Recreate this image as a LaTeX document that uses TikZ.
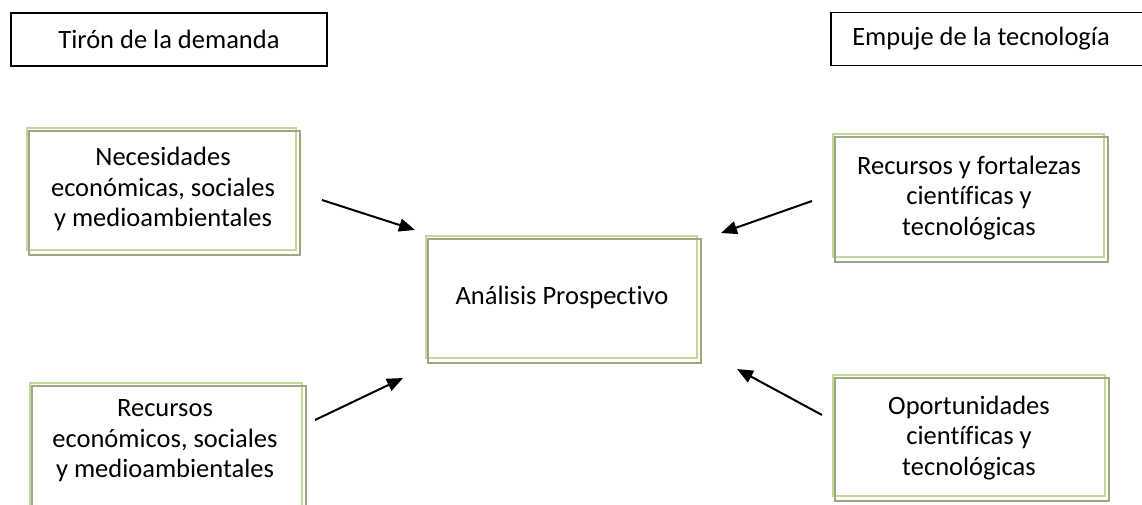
\documentclass[tikz,border=0pt]{standalone}
\usepackage{fontspec}
\setmainfont{Carlito}[Ligatures=NoCommon]
\usetikzlibrary{arrows.meta}
\definecolor{boxlight}{RGB}{195,214,155}
\definecolor{boxdark}{RGB}{158,167,130}
\tikzset{
  x=1pt, y=-1pt,
  txt/.style={font=\fontsize{26.5}{30.5}\selectfont, align=center},
  headbox/.style={txt, draw=black, line width=1.3pt, inner sep=0pt, minimum height=53pt},
  lightframe/.style={draw=boxlight, line width=2.2pt, inner sep=0pt},
  darkframe/.style={draw=boxdark, line width=1.8pt},
  push/.style={line width=2pt, -{Triangle[length=16pt,width=13pt]}}
}
\newcommand{\shadowframe}[1]{%
  \draw[darkframe] ([shift={(3,4)}]#1.north west) rectangle ([shift={(3,4)}]#1.south east);}
\begin{document}
\begin{tikzpicture}
\useasboundingbox (0,0) rectangle (1142,504);
\fill[white] (0,0) rectangle (1142,504);
% header boxes
\node[headbox, minimum width=316pt] (demanda) at (169,39.5) {Tirón de la demanda};
\node[headbox, minimum width=340pt] (empuje) at (1001,39) {};
\node[txt] (empujetxt) at (981,39) {Empuje de la tecnología};
% main boxes
\node[lightframe, minimum width=269pt, minimum height=122pt] (necesidades) at (161.5,189) {};
\shadowframe{necesidades}
\node[txt] (necesidadestxt) at (163,189) {Necesidades\\económicas, sociales\\y medioambientales};
\node[lightframe, minimum width=271pt, minimum height=122pt] (analisis) at (561.5,297) {};
\shadowframe{analisis}
\node[txt] (analisistxt) at (562,297) {Análisis Prospectivo};
\node[lightframe, minimum width=271pt, minimum height=123pt] (fortalezas) at (968.5,195.5) {};
\shadowframe{fortalezas}
\node[txt] (fortalezastxt) at (969,198) {Recursos y fortalezas\\científicas y\\tecnológicas};
\node[lightframe, minimum width=272pt, minimum height=121pt] (oportunidades) at (969,435.5) {};
\shadowframe{oportunidades}
\node[txt] (oportunidadestxt) at (969,438) {Oportunidades\\científicas y\\tecnológicas};
\node[lightframe, minimum width=272pt, minimum height=140pt] (recursos) at (166,453) {};
\shadowframe{recursos}
\node[txt] (recursostxt) at (165,441) {Recursos\\económicos, sociales\\y medioambientales};
% arrows
\coordinate (a1s) at (322,200); \coordinate (a1e) at (415,230);
\coordinate (a2s) at (315,420); \coordinate (a2e) at (403,378);
\coordinate (a3s) at (812,201); \coordinate (a3e) at (721,233);
\coordinate (a4s) at (822,415); \coordinate (a4e) at (737,369);
\draw[push] (a1s) -- (a1e);
\draw[push] (a2s) -- (a2e);
\draw[push] (a3s) -- (a3e);
\draw[push] (a4s) -- (a4e);
\end{tikzpicture}
\end{document}
